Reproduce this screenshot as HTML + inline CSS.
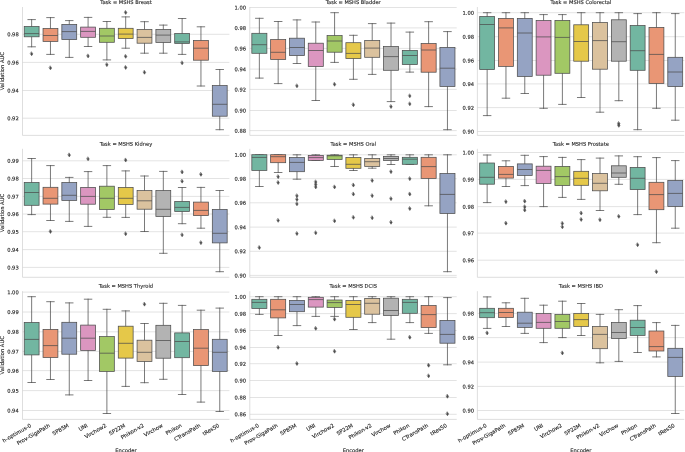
<!DOCTYPE html>
<html lang="en"><head><meta charset="utf-8"><title>Validation AUC by Encoder</title>
<style>html,body{margin:0;padding:0;background:#fff}body{width:685px;height:452px;overflow:hidden}svg{display:block}</style>
</head><body>
<svg width="685" height="452" viewBox="0 0 685 452" font-family="'DejaVu Sans', 'Liberation Sans', sans-serif" font-size="5.2" fill="#262626" text-rendering="geometricPrecision" stroke="#262626" stroke-width="0.13">
<rect width="685" height="452" fill="#fff" stroke="none"/>
<g>
<line x1="22.50" x2="229.40" y1="34.30" y2="34.30" stroke="#cccccc" stroke-width="0.55"/>
<line x1="22.50" x2="229.40" y1="62.40" y2="62.40" stroke="#cccccc" stroke-width="0.55"/>
<line x1="22.50" x2="229.40" y1="90.50" y2="90.50" stroke="#cccccc" stroke-width="0.55"/>
<line x1="22.50" x2="229.40" y1="118.20" y2="118.20" stroke="#cccccc" stroke-width="0.55"/>
<g stroke="#4d4d4d" stroke-width="0.75" fill="none" stroke-linecap="square">
<path d="M31.65 19.60V26.50M31.65 36.80V46.80M27.94 19.60h7.42M27.94 46.80h7.42"/>
<rect x="24.23" y="26.50" width="14.85" height="10.30" fill="#72b6a1"/>
<path d="M24.23 33.60h14.85" stroke-linecap="butt"/>
<path d="M31.65 52.05l1.2 1.85l-1.2 1.85l-1.2 -1.85z" fill="#4d4d4d" stroke-width="0.5" stroke-linejoin="miter"/>
</g>
<g stroke="#4d4d4d" stroke-width="0.75" fill="none" stroke-linecap="square">
<path d="M50.46 17.60V28.50M50.46 41.40V54.40M46.75 17.60h7.42M46.75 54.40h7.42"/>
<rect x="43.04" y="28.50" width="14.85" height="12.90" fill="#e99675"/>
<path d="M43.04 35.50h14.85" stroke-linecap="butt"/>
<path d="M50.46 66.15l1.2 1.85l-1.2 1.85l-1.2 -1.85z" fill="#4d4d4d" stroke-width="0.5" stroke-linejoin="miter"/>
</g>
<g stroke="#4d4d4d" stroke-width="0.75" fill="none" stroke-linecap="square">
<path d="M69.27 20.60V24.40M69.27 39.60V57.40M65.56 20.60h7.42M65.56 57.40h7.42"/>
<rect x="61.85" y="24.40" width="14.85" height="15.20" fill="#95a3c3"/>
<path d="M61.85 31.60h14.85" stroke-linecap="butt"/>
</g>
<g stroke="#4d4d4d" stroke-width="0.75" fill="none" stroke-linecap="square">
<path d="M88.08 17.40V27.10M88.08 37.30V46.50M84.37 17.40h7.42M84.37 46.50h7.42"/>
<rect x="80.66" y="27.10" width="14.85" height="10.20" fill="#db96c0"/>
<path d="M80.66 31.40h14.85" stroke-linecap="butt"/>
<path d="M88.08 54.25l1.2 1.85l-1.2 1.85l-1.2 -1.85z" fill="#4d4d4d" stroke-width="0.5" stroke-linejoin="miter"/>
</g>
<g stroke="#4d4d4d" stroke-width="0.75" fill="none" stroke-linecap="square">
<path d="M106.89 21.50V28.30M106.89 42.30V59.90M103.18 21.50h7.42M103.18 59.90h7.42"/>
<rect x="99.47" y="28.30" width="14.85" height="14.00" fill="#a2c865"/>
<path d="M99.47 36.00h14.85" stroke-linecap="butt"/>
<path d="M106.89 62.95l1.2 1.85l-1.2 1.85l-1.2 -1.85z" fill="#4d4d4d" stroke-width="0.5" stroke-linejoin="miter"/>
</g>
<g stroke="#4d4d4d" stroke-width="0.75" fill="none" stroke-linecap="square">
<path d="M125.70 16.90V28.30M125.70 38.60V48.20M121.99 16.90h7.42M121.99 48.20h7.42"/>
<rect x="118.28" y="28.30" width="14.85" height="10.30" fill="#e5c849"/>
<path d="M118.28 34.10h14.85" stroke-linecap="butt"/>
<path d="M125.70 10.75l1.2 1.85l-1.2 1.85l-1.2 -1.85z" fill="#4d4d4d" stroke-width="0.5" stroke-linejoin="miter"/>
<path d="M125.70 54.65l1.2 1.85l-1.2 1.85l-1.2 -1.85z" fill="#4d4d4d" stroke-width="0.5" stroke-linejoin="miter"/>
<path d="M125.70 65.75l1.2 1.85l-1.2 1.85l-1.2 -1.85z" fill="#4d4d4d" stroke-width="0.5" stroke-linejoin="miter"/>
</g>
<g stroke="#4d4d4d" stroke-width="0.75" fill="none" stroke-linecap="square">
<path d="M144.51 21.70V29.40M144.51 43.20V53.20M140.80 21.70h7.42M140.80 53.20h7.42"/>
<rect x="137.08" y="29.40" width="14.85" height="13.80" fill="#dbc29e"/>
<path d="M137.08 37.40h14.85" stroke-linecap="butt"/>
<path d="M144.51 70.55l1.2 1.85l-1.2 1.85l-1.2 -1.85z" fill="#4d4d4d" stroke-width="0.5" stroke-linejoin="miter"/>
</g>
<g stroke="#4d4d4d" stroke-width="0.75" fill="none" stroke-linecap="square">
<path d="M163.32 25.10V29.40M163.32 42.50V53.20M159.61 25.10h7.42M159.61 53.20h7.42"/>
<rect x="155.89" y="29.40" width="14.85" height="13.10" fill="#b3b3b3"/>
<path d="M155.89 35.10h14.85" stroke-linecap="butt"/>
</g>
<g stroke="#4d4d4d" stroke-width="0.75" fill="none" stroke-linecap="square">
<path d="M182.13 18.50V33.50M182.13 43.40V54.40M178.41 18.50h7.42M178.41 54.40h7.42"/>
<rect x="174.70" y="33.50" width="14.85" height="9.90" fill="#72b6a1"/>
<path d="M174.70 41.90h14.85" stroke-linecap="butt"/>
<path d="M182.13 61.15l1.2 1.85l-1.2 1.85l-1.2 -1.85z" fill="#4d4d4d" stroke-width="0.5" stroke-linejoin="miter"/>
</g>
<g stroke="#4d4d4d" stroke-width="0.75" fill="none" stroke-linecap="square">
<path d="M200.94 26.80V40.50M200.94 60.20V86.00M197.22 26.80h7.42M197.22 86.00h7.42"/>
<rect x="193.51" y="40.50" width="14.85" height="19.70" fill="#e99675"/>
<path d="M193.51 48.20h14.85" stroke-linecap="butt"/>
</g>
<g stroke="#4d4d4d" stroke-width="0.75" fill="none" stroke-linecap="square">
<path d="M219.75 69.50V85.60M219.75 116.20V129.70M216.03 69.50h7.42M216.03 129.70h7.42"/>
<rect x="212.32" y="85.60" width="14.85" height="30.60" fill="#95a3c3"/>
<path d="M212.32 104.30h14.85" stroke-linecap="butt"/>
</g>
<path d="M22.50 7.00V135.40H229.40" fill="none" stroke="#cccccc" stroke-width="0.65"/>
<text transform="translate(18.70 36.35) rotate(0.05)" text-anchor="end">0.98</text>
<text transform="translate(18.70 64.45) rotate(0.05)" text-anchor="end">0.96</text>
<text transform="translate(18.70 92.55) rotate(0.05)" text-anchor="end">0.94</text>
<text transform="translate(18.70 120.25) rotate(0.05)" text-anchor="end">0.92</text>
<text transform="translate(125.95 4.00) rotate(0.05)" text-anchor="middle" font-size="5.14">Task = MSHS Breast</text>
<text transform="translate(4.0 71.20) rotate(-90)" text-anchor="middle">Validation AUC</text>
</g>
<g>
<line x1="249.80" x2="456.70" y1="7.50" y2="7.50" stroke="#cccccc" stroke-width="0.55"/>
<line x1="249.80" x2="456.70" y1="27.90" y2="27.90" stroke="#cccccc" stroke-width="0.55"/>
<line x1="249.80" x2="456.70" y1="48.40" y2="48.40" stroke="#cccccc" stroke-width="0.55"/>
<line x1="249.80" x2="456.70" y1="69.10" y2="69.10" stroke="#cccccc" stroke-width="0.55"/>
<line x1="249.80" x2="456.70" y1="89.40" y2="89.40" stroke="#cccccc" stroke-width="0.55"/>
<line x1="249.80" x2="456.70" y1="110.50" y2="110.50" stroke="#cccccc" stroke-width="0.55"/>
<line x1="249.80" x2="456.70" y1="130.60" y2="130.60" stroke="#cccccc" stroke-width="0.55"/>
<g stroke="#4d4d4d" stroke-width="0.75" fill="none" stroke-linecap="square">
<path d="M259.35 18.30V33.30M259.35 53.30V78.10M255.59 18.30h7.53M255.59 78.10h7.53"/>
<rect x="251.83" y="33.30" width="15.05" height="20.00" fill="#72b6a1"/>
<path d="M251.83 44.70h15.05" stroke-linecap="butt"/>
</g>
<g stroke="#4d4d4d" stroke-width="0.75" fill="none" stroke-linecap="square">
<path d="M278.16 21.50V39.60M278.16 59.50V83.60M274.40 21.50h7.53M274.40 83.60h7.53"/>
<rect x="270.64" y="39.60" width="15.05" height="19.90" fill="#e99675"/>
<path d="M270.64 52.30h15.05" stroke-linecap="butt"/>
</g>
<g stroke="#4d4d4d" stroke-width="0.75" fill="none" stroke-linecap="square">
<path d="M296.97 19.90V38.20M296.97 55.60V63.50M293.21 19.90h7.53M293.21 63.50h7.53"/>
<rect x="289.45" y="38.20" width="15.05" height="17.40" fill="#95a3c3"/>
<path d="M289.45 47.50h15.05" stroke-linecap="butt"/>
<path d="M296.97 84.15l1.2 1.85l-1.2 1.85l-1.2 -1.85z" fill="#4d4d4d" stroke-width="0.5" stroke-linejoin="miter"/>
</g>
<g stroke="#4d4d4d" stroke-width="0.75" fill="none" stroke-linecap="square">
<path d="M315.78 22.00V43.20M315.78 66.50V100.50M312.02 22.00h7.53M312.02 100.50h7.53"/>
<rect x="308.26" y="43.20" width="15.05" height="23.30" fill="#db96c0"/>
<path d="M308.26 50.50h15.05" stroke-linecap="butt"/>
</g>
<g stroke="#4d4d4d" stroke-width="0.75" fill="none" stroke-linecap="square">
<path d="M334.59 12.70V35.60M334.59 52.20V62.40M330.83 12.70h7.53M330.83 62.40h7.53"/>
<rect x="327.07" y="35.60" width="15.05" height="16.60" fill="#a2c865"/>
<path d="M327.07 41.00h15.05" stroke-linecap="butt"/>
<path d="M334.59 82.55l1.2 1.85l-1.2 1.85l-1.2 -1.85z" fill="#4d4d4d" stroke-width="0.5" stroke-linejoin="miter"/>
</g>
<g stroke="#4d4d4d" stroke-width="0.75" fill="none" stroke-linecap="square">
<path d="M353.40 35.30V42.70M353.40 58.60V79.30M349.64 35.30h7.53M349.64 79.30h7.53"/>
<rect x="345.88" y="42.70" width="15.05" height="15.90" fill="#e5c849"/>
<path d="M345.88 53.40h15.05" stroke-linecap="butt"/>
<path d="M353.40 103.05l1.2 1.85l-1.2 1.85l-1.2 -1.85z" fill="#4d4d4d" stroke-width="0.5" stroke-linejoin="miter"/>
</g>
<g stroke="#4d4d4d" stroke-width="0.75" fill="none" stroke-linecap="square">
<path d="M372.21 23.60V40.50M372.21 57.30V74.40M368.45 23.60h7.53M368.45 74.40h7.53"/>
<rect x="364.68" y="40.50" width="15.05" height="16.80" fill="#dbc29e"/>
<path d="M364.68 48.10h15.05" stroke-linecap="butt"/>
</g>
<g stroke="#4d4d4d" stroke-width="0.75" fill="none" stroke-linecap="square">
<path d="M391.02 23.10V46.50M391.02 70.30V101.60M387.26 23.10h7.53M387.26 101.60h7.53"/>
<rect x="383.49" y="46.50" width="15.05" height="23.80" fill="#b3b3b3"/>
<path d="M383.49 56.60h15.05" stroke-linecap="butt"/>
<path d="M391.02 104.85l1.2 1.85l-1.2 1.85l-1.2 -1.85z" fill="#4d4d4d" stroke-width="0.5" stroke-linejoin="miter"/>
</g>
<g stroke="#4d4d4d" stroke-width="0.75" fill="none" stroke-linecap="square">
<path d="M409.83 32.10V50.40M409.83 64.60V72.10M406.06 32.10h7.53M406.06 72.10h7.53"/>
<rect x="402.30" y="50.40" width="15.05" height="14.20" fill="#72b6a1"/>
<path d="M402.30 55.50h15.05" stroke-linecap="butt"/>
<path d="M409.83 94.15l1.2 1.85l-1.2 1.85l-1.2 -1.85z" fill="#4d4d4d" stroke-width="0.5" stroke-linejoin="miter"/>
<path d="M409.83 102.15l1.2 1.85l-1.2 1.85l-1.2 -1.85z" fill="#4d4d4d" stroke-width="0.5" stroke-linejoin="miter"/>
</g>
<g stroke="#4d4d4d" stroke-width="0.75" fill="none" stroke-linecap="square">
<path d="M428.64 21.70V43.50M428.64 72.20V106.60M424.87 21.70h7.53M424.87 106.60h7.53"/>
<rect x="421.11" y="43.50" width="15.05" height="28.70" fill="#e99675"/>
<path d="M421.11 50.00h15.05" stroke-linecap="butt"/>
</g>
<g stroke="#4d4d4d" stroke-width="0.75" fill="none" stroke-linecap="square">
<path d="M447.45 31.60V47.40M447.45 86.50V129.70M443.68 31.60h7.53M443.68 129.70h7.53"/>
<rect x="439.92" y="47.40" width="15.05" height="39.10" fill="#95a3c3"/>
<path d="M439.92 68.20h15.05" stroke-linecap="butt"/>
</g>
<path d="M249.80 7.00V135.40H456.70" fill="none" stroke="#cccccc" stroke-width="0.65"/>
<text transform="translate(246.00 9.55) rotate(0.05)" text-anchor="end">1.00</text>
<text transform="translate(246.00 29.95) rotate(0.05)" text-anchor="end">0.98</text>
<text transform="translate(246.00 50.45) rotate(0.05)" text-anchor="end">0.96</text>
<text transform="translate(246.00 71.15) rotate(0.05)" text-anchor="end">0.94</text>
<text transform="translate(246.00 91.45) rotate(0.05)" text-anchor="end">0.92</text>
<text transform="translate(246.00 112.55) rotate(0.05)" text-anchor="end">0.90</text>
<text transform="translate(246.00 132.65) rotate(0.05)" text-anchor="end">0.88</text>
<text transform="translate(353.25 4.00) rotate(0.05)" text-anchor="middle" font-size="5.14">Task = MSHS Bladder</text>
</g>
<g>
<line x1="477.40" x2="684.30" y1="12.70" y2="12.70" stroke="#cccccc" stroke-width="0.55"/>
<line x1="477.40" x2="684.30" y1="36.70" y2="36.70" stroke="#cccccc" stroke-width="0.55"/>
<line x1="477.40" x2="684.30" y1="60.50" y2="60.50" stroke="#cccccc" stroke-width="0.55"/>
<line x1="477.40" x2="684.30" y1="83.90" y2="83.90" stroke="#cccccc" stroke-width="0.55"/>
<line x1="477.40" x2="684.30" y1="107.60" y2="107.60" stroke="#cccccc" stroke-width="0.55"/>
<line x1="477.40" x2="684.30" y1="131.50" y2="131.50" stroke="#cccccc" stroke-width="0.55"/>
<g stroke="#4d4d4d" stroke-width="0.75" fill="none" stroke-linecap="square">
<path d="M487.15 12.70V16.50M487.15 69.60V115.60M483.43 12.70h7.45M483.43 115.60h7.45"/>
<rect x="479.70" y="16.50" width="14.90" height="53.10" fill="#72b6a1"/>
<path d="M479.70 24.50h14.90" stroke-linecap="butt"/>
</g>
<g stroke="#4d4d4d" stroke-width="0.75" fill="none" stroke-linecap="square">
<path d="M505.96 12.70V18.40M505.96 66.40V98.20M502.24 12.70h7.45M502.24 98.20h7.45"/>
<rect x="498.51" y="18.40" width="14.90" height="48.00" fill="#e99675"/>
<path d="M498.51 27.90h14.90" stroke-linecap="butt"/>
</g>
<g stroke="#4d4d4d" stroke-width="0.75" fill="none" stroke-linecap="square">
<path d="M524.77 12.70V18.40M524.77 76.50V93.50M521.05 12.70h7.45M521.05 93.50h7.45"/>
<rect x="517.32" y="18.40" width="14.90" height="58.10" fill="#95a3c3"/>
<path d="M517.32 33.00h14.90" stroke-linecap="butt"/>
</g>
<g stroke="#4d4d4d" stroke-width="0.75" fill="none" stroke-linecap="square">
<path d="M543.58 14.60V20.50M543.58 75.20V108.30M539.86 14.60h7.45M539.86 108.30h7.45"/>
<rect x="536.13" y="20.50" width="14.90" height="54.70" fill="#db96c0"/>
<path d="M536.13 36.90h14.90" stroke-linecap="butt"/>
</g>
<g stroke="#4d4d4d" stroke-width="0.75" fill="none" stroke-linecap="square">
<path d="M562.39 14.60V20.40M562.39 73.30V104.40M558.67 14.60h7.45M558.67 104.40h7.45"/>
<rect x="554.94" y="20.40" width="14.90" height="52.90" fill="#a2c865"/>
<path d="M554.94 37.40h14.90" stroke-linecap="butt"/>
</g>
<g stroke="#4d4d4d" stroke-width="0.75" fill="none" stroke-linecap="square">
<path d="M581.20 12.70V24.80M581.20 61.20V97.50M577.48 12.70h7.45M577.48 97.50h7.45"/>
<rect x="573.75" y="24.80" width="14.90" height="36.40" fill="#e5c849"/>
<path d="M573.75 41.50h14.90" stroke-linecap="butt"/>
</g>
<g stroke="#4d4d4d" stroke-width="0.75" fill="none" stroke-linecap="square">
<path d="M600.01 12.70V22.50M600.01 69.20V112.20M596.28 12.70h7.45M596.28 112.20h7.45"/>
<rect x="592.56" y="22.50" width="14.90" height="46.70" fill="#dbc29e"/>
<path d="M592.56 40.60h14.90" stroke-linecap="butt"/>
</g>
<g stroke="#4d4d4d" stroke-width="0.75" fill="none" stroke-linecap="square">
<path d="M618.82 12.70V19.80M618.82 61.20V100.70M615.09 12.70h7.45M615.09 100.70h7.45"/>
<rect x="611.37" y="19.80" width="14.90" height="41.40" fill="#b3b3b3"/>
<path d="M611.37 41.70h14.90" stroke-linecap="butt"/>
<path d="M618.82 121.85l1.2 1.85l-1.2 1.85l-1.2 -1.85z" fill="#4d4d4d" stroke-width="0.5" stroke-linejoin="miter"/>
<path d="M618.82 123.65l1.2 1.85l-1.2 1.85l-1.2 -1.85z" fill="#4d4d4d" stroke-width="0.5" stroke-linejoin="miter"/>
</g>
<g stroke="#4d4d4d" stroke-width="0.75" fill="none" stroke-linecap="square">
<path d="M637.63 13.60V25.50M637.63 70.30V129.70M633.90 13.60h7.45M633.90 129.70h7.45"/>
<rect x="630.18" y="25.50" width="14.90" height="44.80" fill="#72b6a1"/>
<path d="M630.18 50.70h14.90" stroke-linecap="butt"/>
</g>
<g stroke="#4d4d4d" stroke-width="0.75" fill="none" stroke-linecap="square">
<path d="M656.44 12.70V27.40M656.44 83.50V108.30M652.71 12.70h7.45M652.71 108.30h7.45"/>
<rect x="648.99" y="27.40" width="14.90" height="56.10" fill="#e99675"/>
<path d="M648.99 54.40h14.90" stroke-linecap="butt"/>
</g>
<g stroke="#4d4d4d" stroke-width="0.75" fill="none" stroke-linecap="square">
<path d="M675.25 13.60V57.30M675.25 86.60V120.20M671.52 13.60h7.45M671.52 120.20h7.45"/>
<rect x="667.80" y="57.30" width="14.90" height="29.30" fill="#95a3c3"/>
<path d="M667.80 72.00h14.90" stroke-linecap="butt"/>
</g>
<path d="M477.40 7.00V135.40H684.30" fill="none" stroke="#cccccc" stroke-width="0.65"/>
<text transform="translate(474.10 14.75) rotate(0.05)" text-anchor="end">1.00</text>
<text transform="translate(474.10 38.75) rotate(0.05)" text-anchor="end">0.98</text>
<text transform="translate(474.10 62.55) rotate(0.05)" text-anchor="end">0.96</text>
<text transform="translate(474.10 85.95) rotate(0.05)" text-anchor="end">0.94</text>
<text transform="translate(474.10 109.65) rotate(0.05)" text-anchor="end">0.92</text>
<text transform="translate(474.10 133.55) rotate(0.05)" text-anchor="end">0.90</text>
<text transform="translate(580.85 4.00) rotate(0.05)" text-anchor="middle" font-size="5.14">Task = MSHS Colorectal</text>
</g>
<g>
<line x1="22.50" x2="229.40" y1="160.80" y2="160.80" stroke="#cccccc" stroke-width="0.55"/>
<line x1="22.50" x2="229.40" y1="178.50" y2="178.50" stroke="#cccccc" stroke-width="0.55"/>
<line x1="22.50" x2="229.40" y1="196.40" y2="196.40" stroke="#cccccc" stroke-width="0.55"/>
<line x1="22.50" x2="229.40" y1="214.00" y2="214.00" stroke="#cccccc" stroke-width="0.55"/>
<line x1="22.50" x2="229.40" y1="231.70" y2="231.70" stroke="#cccccc" stroke-width="0.55"/>
<line x1="22.50" x2="229.40" y1="249.60" y2="249.60" stroke="#cccccc" stroke-width="0.55"/>
<line x1="22.50" x2="229.40" y1="267.40" y2="267.40" stroke="#cccccc" stroke-width="0.55"/>
<g stroke="#4d4d4d" stroke-width="0.75" fill="none" stroke-linecap="square">
<path d="M31.65 158.50V182.50M31.65 205.30V214.60M27.94 158.50h7.42M27.94 214.60h7.42"/>
<rect x="24.23" y="182.50" width="14.85" height="22.80" fill="#72b6a1"/>
<path d="M24.23 192.50h14.85" stroke-linecap="butt"/>
</g>
<g stroke="#4d4d4d" stroke-width="0.75" fill="none" stroke-linecap="square">
<path d="M50.46 165.60V187.30M50.46 204.10V220.50M46.75 165.60h7.42M46.75 220.50h7.42"/>
<rect x="43.04" y="187.30" width="14.85" height="16.80" fill="#e99675"/>
<path d="M43.04 198.30h14.85" stroke-linecap="butt"/>
<path d="M50.46 229.75l1.2 1.85l-1.2 1.85l-1.2 -1.85z" fill="#4d4d4d" stroke-width="0.5" stroke-linejoin="miter"/>
</g>
<g stroke="#4d4d4d" stroke-width="0.75" fill="none" stroke-linecap="square">
<path d="M69.27 177.40V182.50M69.27 200.40V221.40M65.56 177.40h7.42M65.56 221.40h7.42"/>
<rect x="61.85" y="182.50" width="14.85" height="17.90" fill="#95a3c3"/>
<path d="M61.85 195.30h14.85" stroke-linecap="butt"/>
<path d="M69.27 153.25l1.2 1.85l-1.2 1.85l-1.2 -1.85z" fill="#4d4d4d" stroke-width="0.5" stroke-linejoin="miter"/>
</g>
<g stroke="#4d4d4d" stroke-width="0.75" fill="none" stroke-linecap="square">
<path d="M88.08 171.60V187.40M88.08 204.20V226.40M84.37 171.60h7.42M84.37 226.40h7.42"/>
<rect x="80.66" y="187.40" width="14.85" height="16.80" fill="#db96c0"/>
<path d="M80.66 196.40h14.85" stroke-linecap="butt"/>
<path d="M88.08 157.15l1.2 1.85l-1.2 1.85l-1.2 -1.85z" fill="#4d4d4d" stroke-width="0.5" stroke-linejoin="miter"/>
</g>
<g stroke="#4d4d4d" stroke-width="0.75" fill="none" stroke-linecap="square">
<path d="M106.89 165.60V186.20M106.89 209.60V217.30M103.18 165.60h7.42M103.18 217.30h7.42"/>
<rect x="99.47" y="186.20" width="14.85" height="23.40" fill="#a2c865"/>
<path d="M99.47 198.30h14.85" stroke-linecap="butt"/>
</g>
<g stroke="#4d4d4d" stroke-width="0.75" fill="none" stroke-linecap="square">
<path d="M125.70 170.90V187.40M125.70 204.40V217.40M121.99 170.90h7.42M121.99 217.40h7.42"/>
<rect x="118.28" y="187.40" width="14.85" height="17.00" fill="#e5c849"/>
<path d="M118.28 198.30h14.85" stroke-linecap="butt"/>
<path d="M125.70 158.35l1.2 1.85l-1.2 1.85l-1.2 -1.85z" fill="#4d4d4d" stroke-width="0.5" stroke-linejoin="miter"/>
<path d="M125.70 232.05l1.2 1.85l-1.2 1.85l-1.2 -1.85z" fill="#4d4d4d" stroke-width="0.5" stroke-linejoin="miter"/>
</g>
<g stroke="#4d4d4d" stroke-width="0.75" fill="none" stroke-linecap="square">
<path d="M144.51 176.00V190.60M144.51 209.20V231.50M140.80 176.00h7.42M140.80 231.50h7.42"/>
<rect x="137.08" y="190.60" width="14.85" height="18.60" fill="#dbc29e"/>
<path d="M137.08 200.80h14.85" stroke-linecap="butt"/>
</g>
<g stroke="#4d4d4d" stroke-width="0.75" fill="none" stroke-linecap="square">
<path d="M163.32 171.40V190.60M163.32 216.50V253.30M159.61 171.40h7.42M159.61 253.30h7.42"/>
<rect x="155.89" y="190.60" width="14.85" height="25.90" fill="#b3b3b3"/>
<path d="M155.89 209.30h14.85" stroke-linecap="butt"/>
</g>
<g stroke="#4d4d4d" stroke-width="0.75" fill="none" stroke-linecap="square">
<path d="M182.13 187.50V201.40M182.13 211.50V223.70M178.41 187.50h7.42M178.41 223.70h7.42"/>
<rect x="174.70" y="201.40" width="14.85" height="10.10" fill="#72b6a1"/>
<path d="M174.70 207.40h14.85" stroke-linecap="butt"/>
<path d="M182.13 170.25l1.2 1.85l-1.2 1.85l-1.2 -1.85z" fill="#4d4d4d" stroke-width="0.5" stroke-linejoin="miter"/>
<path d="M182.13 179.45l1.2 1.85l-1.2 1.85l-1.2 -1.85z" fill="#4d4d4d" stroke-width="0.5" stroke-linejoin="miter"/>
<path d="M182.13 233.15l1.2 1.85l-1.2 1.85l-1.2 -1.85z" fill="#4d4d4d" stroke-width="0.5" stroke-linejoin="miter"/>
</g>
<g stroke="#4d4d4d" stroke-width="0.75" fill="none" stroke-linecap="square">
<path d="M200.94 187.40V202.10M200.94 215.60V228.20M197.22 187.40h7.42M197.22 228.20h7.42"/>
<rect x="193.51" y="202.10" width="14.85" height="13.50" fill="#e99675"/>
<path d="M193.51 210.40h14.85" stroke-linecap="butt"/>
<path d="M200.94 172.65l1.2 1.85l-1.2 1.85l-1.2 -1.85z" fill="#4d4d4d" stroke-width="0.5" stroke-linejoin="miter"/>
<path d="M200.94 240.95l1.2 1.85l-1.2 1.85l-1.2 -1.85z" fill="#4d4d4d" stroke-width="0.5" stroke-linejoin="miter"/>
</g>
<g stroke="#4d4d4d" stroke-width="0.75" fill="none" stroke-linecap="square">
<path d="M219.75 190.50V209.40M219.75 242.90V271.70M216.03 190.50h7.42M216.03 271.70h7.42"/>
<rect x="212.32" y="209.40" width="14.85" height="33.50" fill="#95a3c3"/>
<path d="M212.32 233.30h14.85" stroke-linecap="butt"/>
</g>
<path d="M22.50 148.80V277.30H229.40" fill="none" stroke="#cccccc" stroke-width="0.65"/>
<text transform="translate(18.70 162.85) rotate(0.05)" text-anchor="end">0.99</text>
<text transform="translate(18.70 180.55) rotate(0.05)" text-anchor="end">0.98</text>
<text transform="translate(18.70 198.45) rotate(0.05)" text-anchor="end">0.97</text>
<text transform="translate(18.70 216.05) rotate(0.05)" text-anchor="end">0.96</text>
<text transform="translate(18.70 233.75) rotate(0.05)" text-anchor="end">0.95</text>
<text transform="translate(18.70 251.65) rotate(0.05)" text-anchor="end">0.94</text>
<text transform="translate(18.70 269.45) rotate(0.05)" text-anchor="end">0.93</text>
<text transform="translate(125.95 145.70) rotate(0.05)" text-anchor="middle" font-size="5.14">Task = MSHS Kidney</text>
<text transform="translate(4.0 213.05) rotate(-90)" text-anchor="middle">Validation AUC</text>
</g>
<g>
<line x1="249.80" x2="456.70" y1="154.80" y2="154.80" stroke="#cccccc" stroke-width="0.55"/>
<line x1="249.80" x2="456.70" y1="178.70" y2="178.70" stroke="#cccccc" stroke-width="0.55"/>
<line x1="249.80" x2="456.70" y1="202.80" y2="202.80" stroke="#cccccc" stroke-width="0.55"/>
<line x1="249.80" x2="456.70" y1="227.10" y2="227.10" stroke="#cccccc" stroke-width="0.55"/>
<line x1="249.80" x2="456.70" y1="251.30" y2="251.30" stroke="#cccccc" stroke-width="0.55"/>
<line x1="249.80" x2="456.70" y1="275.40" y2="275.40" stroke="#cccccc" stroke-width="0.55"/>
<g stroke="#4d4d4d" stroke-width="0.75" fill="none" stroke-linecap="square">
<path d="M259.35 154.80V154.70M259.35 170.40V186.50M255.59 154.80h7.53M255.59 186.50h7.53"/>
<rect x="251.83" y="154.70" width="15.05" height="15.70" fill="#72b6a1"/>
<path d="M251.83 157.40h15.05" stroke-linecap="butt"/>
<path d="M259.35 245.85l1.2 1.85l-1.2 1.85l-1.2 -1.85z" fill="#4d4d4d" stroke-width="0.5" stroke-linejoin="miter"/>
</g>
<g stroke="#4d4d4d" stroke-width="0.75" fill="none" stroke-linecap="square">
<path d="M278.16 154.80V154.70M278.16 162.70V172.50M274.40 154.80h7.53M274.40 172.50h7.53"/>
<rect x="270.64" y="154.70" width="15.05" height="8.00" fill="#e99675"/>
<path d="M270.64 156.70h15.05" stroke-linecap="butt"/>
<path d="M278.16 174.95l1.2 1.85l-1.2 1.85l-1.2 -1.85z" fill="#4d4d4d" stroke-width="0.5" stroke-linejoin="miter"/>
<path d="M278.16 180.85l1.2 1.85l-1.2 1.85l-1.2 -1.85z" fill="#4d4d4d" stroke-width="0.5" stroke-linejoin="miter"/>
<path d="M278.16 218.65l1.2 1.85l-1.2 1.85l-1.2 -1.85z" fill="#4d4d4d" stroke-width="0.5" stroke-linejoin="miter"/>
</g>
<g stroke="#4d4d4d" stroke-width="0.75" fill="none" stroke-linecap="square">
<path d="M296.97 154.80V157.50M296.97 171.70V179.20M293.21 154.80h7.53M293.21 179.20h7.53"/>
<rect x="289.45" y="157.50" width="15.05" height="14.20" fill="#95a3c3"/>
<path d="M289.45 162.40h15.05" stroke-linecap="butt"/>
<path d="M296.97 194.05l1.2 1.85l-1.2 1.85l-1.2 -1.85z" fill="#4d4d4d" stroke-width="0.5" stroke-linejoin="miter"/>
<path d="M296.97 197.75l1.2 1.85l-1.2 1.85l-1.2 -1.85z" fill="#4d4d4d" stroke-width="0.5" stroke-linejoin="miter"/>
<path d="M296.97 202.15l1.2 1.85l-1.2 1.85l-1.2 -1.85z" fill="#4d4d4d" stroke-width="0.5" stroke-linejoin="miter"/>
<path d="M296.97 231.85l1.2 1.85l-1.2 1.85l-1.2 -1.85z" fill="#4d4d4d" stroke-width="0.5" stroke-linejoin="miter"/>
</g>
<g stroke="#4d4d4d" stroke-width="0.75" fill="none" stroke-linecap="square">
<path d="M315.78 154.80V155.40M315.78 160.40V160.50M312.02 154.80h7.53M312.02 160.50h7.53"/>
<rect x="308.26" y="155.40" width="15.05" height="5.00" fill="#db96c0"/>
<path d="M308.26 157.60h15.05" stroke-linecap="butt"/>
<path d="M315.78 180.15l1.2 1.85l-1.2 1.85l-1.2 -1.85z" fill="#4d4d4d" stroke-width="0.5" stroke-linejoin="miter"/>
<path d="M315.78 182.65l1.2 1.85l-1.2 1.85l-1.2 -1.85z" fill="#4d4d4d" stroke-width="0.5" stroke-linejoin="miter"/>
<path d="M315.78 185.25l1.2 1.85l-1.2 1.85l-1.2 -1.85z" fill="#4d4d4d" stroke-width="0.5" stroke-linejoin="miter"/>
<path d="M315.78 231.05l1.2 1.85l-1.2 1.85l-1.2 -1.85z" fill="#4d4d4d" stroke-width="0.5" stroke-linejoin="miter"/>
</g>
<g stroke="#4d4d4d" stroke-width="0.75" fill="none" stroke-linecap="square">
<path d="M334.59 154.80V155.20M334.59 159.50V166.50M330.83 154.80h7.53M330.83 166.50h7.53"/>
<rect x="327.07" y="155.20" width="15.05" height="4.30" fill="#a2c865"/>
<path d="M327.07 155.80h15.05" stroke-linecap="butt"/>
<path d="M334.59 185.25l1.2 1.85l-1.2 1.85l-1.2 -1.85z" fill="#4d4d4d" stroke-width="0.5" stroke-linejoin="miter"/>
<path d="M334.59 219.15l1.2 1.85l-1.2 1.85l-1.2 -1.85z" fill="#4d4d4d" stroke-width="0.5" stroke-linejoin="miter"/>
</g>
<g stroke="#4d4d4d" stroke-width="0.75" fill="none" stroke-linecap="square">
<path d="M353.40 154.80V157.50M353.40 168.30V170.50M349.64 154.80h7.53M349.64 170.50h7.53"/>
<rect x="345.88" y="157.50" width="15.05" height="10.80" fill="#e5c849"/>
<path d="M345.88 164.30h15.05" stroke-linecap="butt"/>
<path d="M353.40 183.35l1.2 1.85l-1.2 1.85l-1.2 -1.85z" fill="#4d4d4d" stroke-width="0.5" stroke-linejoin="miter"/>
<path d="M353.40 192.35l1.2 1.85l-1.2 1.85l-1.2 -1.85z" fill="#4d4d4d" stroke-width="0.5" stroke-linejoin="miter"/>
<path d="M353.40 215.65l1.2 1.85l-1.2 1.85l-1.2 -1.85z" fill="#4d4d4d" stroke-width="0.5" stroke-linejoin="miter"/>
</g>
<g stroke="#4d4d4d" stroke-width="0.75" fill="none" stroke-linecap="square">
<path d="M372.21 154.80V158.40M372.21 166.50V168.20M368.45 154.80h7.53M368.45 168.20h7.53"/>
<rect x="364.68" y="158.40" width="15.05" height="8.10" fill="#dbc29e"/>
<path d="M364.68 161.70h15.05" stroke-linecap="butt"/>
<path d="M372.21 178.75l1.2 1.85l-1.2 1.85l-1.2 -1.85z" fill="#4d4d4d" stroke-width="0.5" stroke-linejoin="miter"/>
<path d="M372.21 193.95l1.2 1.85l-1.2 1.85l-1.2 -1.85z" fill="#4d4d4d" stroke-width="0.5" stroke-linejoin="miter"/>
<path d="M372.21 216.05l1.2 1.85l-1.2 1.85l-1.2 -1.85z" fill="#4d4d4d" stroke-width="0.5" stroke-linejoin="miter"/>
</g>
<g stroke="#4d4d4d" stroke-width="0.75" fill="none" stroke-linecap="square">
<path d="M391.02 154.80V156.40M391.02 160.60V164.50M387.26 154.80h7.53M387.26 164.50h7.53"/>
<rect x="383.49" y="156.40" width="15.05" height="4.20" fill="#b3b3b3"/>
<path d="M383.49 158.50h15.05" stroke-linecap="butt"/>
<path d="M391.02 169.95l1.2 1.85l-1.2 1.85l-1.2 -1.85z" fill="#4d4d4d" stroke-width="0.5" stroke-linejoin="miter"/>
<path d="M391.02 196.95l1.2 1.85l-1.2 1.85l-1.2 -1.85z" fill="#4d4d4d" stroke-width="0.5" stroke-linejoin="miter"/>
<path d="M391.02 220.55l1.2 1.85l-1.2 1.85l-1.2 -1.85z" fill="#4d4d4d" stroke-width="0.5" stroke-linejoin="miter"/>
</g>
<g stroke="#4d4d4d" stroke-width="0.75" fill="none" stroke-linecap="square">
<path d="M409.83 154.80V157.30M409.83 164.30V164.50M406.06 154.80h7.53M406.06 164.50h7.53"/>
<rect x="402.30" y="157.30" width="15.05" height="7.00" fill="#72b6a1"/>
<path d="M402.30 159.20h15.05" stroke-linecap="butt"/>
<path d="M409.83 176.95l1.2 1.85l-1.2 1.85l-1.2 -1.85z" fill="#4d4d4d" stroke-width="0.5" stroke-linejoin="miter"/>
<path d="M409.83 192.35l1.2 1.85l-1.2 1.85l-1.2 -1.85z" fill="#4d4d4d" stroke-width="0.5" stroke-linejoin="miter"/>
<path d="M409.83 206.85l1.2 1.85l-1.2 1.85l-1.2 -1.85z" fill="#4d4d4d" stroke-width="0.5" stroke-linejoin="miter"/>
</g>
<g stroke="#4d4d4d" stroke-width="0.75" fill="none" stroke-linecap="square">
<path d="M428.64 154.80V157.30M428.64 178.40V205.80M424.87 154.80h7.53M424.87 205.80h7.53"/>
<rect x="421.11" y="157.30" width="15.05" height="21.10" fill="#e99675"/>
<path d="M421.11 166.60h15.05" stroke-linecap="butt"/>
</g>
<g stroke="#4d4d4d" stroke-width="0.75" fill="none" stroke-linecap="square">
<path d="M447.45 154.80V173.50M447.45 213.50V271.70M443.68 154.80h7.53M443.68 271.70h7.53"/>
<rect x="439.92" y="173.50" width="15.05" height="40.00" fill="#95a3c3"/>
<path d="M439.92 194.40h15.05" stroke-linecap="butt"/>
</g>
<path d="M249.80 148.80V277.30H456.70" fill="none" stroke="#cccccc" stroke-width="0.65"/>
<text transform="translate(246.00 156.85) rotate(0.05)" text-anchor="end">1.00</text>
<text transform="translate(246.00 180.75) rotate(0.05)" text-anchor="end">0.98</text>
<text transform="translate(246.00 204.85) rotate(0.05)" text-anchor="end">0.96</text>
<text transform="translate(246.00 229.15) rotate(0.05)" text-anchor="end">0.94</text>
<text transform="translate(246.00 253.35) rotate(0.05)" text-anchor="end">0.92</text>
<text transform="translate(246.00 277.45) rotate(0.05)" text-anchor="end">0.90</text>
<text transform="translate(353.25 145.70) rotate(0.05)" text-anchor="middle" font-size="5.14">Task = MSHS Oral</text>
</g>
<g>
<line x1="477.40" x2="684.30" y1="152.50" y2="152.50" stroke="#cccccc" stroke-width="0.55"/>
<line x1="477.40" x2="684.30" y1="179.40" y2="179.40" stroke="#cccccc" stroke-width="0.55"/>
<line x1="477.40" x2="684.30" y1="206.60" y2="206.60" stroke="#cccccc" stroke-width="0.55"/>
<line x1="477.40" x2="684.30" y1="233.10" y2="233.10" stroke="#cccccc" stroke-width="0.55"/>
<line x1="477.40" x2="684.30" y1="260.20" y2="260.20" stroke="#cccccc" stroke-width="0.55"/>
<g stroke="#4d4d4d" stroke-width="0.75" fill="none" stroke-linecap="square">
<path d="M487.15 155.00V163.00M487.15 184.20V202.60M483.43 155.00h7.45M483.43 202.60h7.45"/>
<rect x="479.70" y="163.00" width="14.90" height="21.20" fill="#72b6a1"/>
<path d="M479.70 177.30h14.90" stroke-linecap="butt"/>
</g>
<g stroke="#4d4d4d" stroke-width="0.75" fill="none" stroke-linecap="square">
<path d="M505.96 160.80V166.40M505.96 178.10V186.50M502.24 160.80h7.45M502.24 186.50h7.45"/>
<rect x="498.51" y="166.40" width="14.90" height="11.70" fill="#e99675"/>
<path d="M498.51 174.40h14.90" stroke-linecap="butt"/>
<path d="M505.96 199.95l1.2 1.85l-1.2 1.85l-1.2 -1.85z" fill="#4d4d4d" stroke-width="0.5" stroke-linejoin="miter"/>
<path d="M505.96 221.45l1.2 1.85l-1.2 1.85l-1.2 -1.85z" fill="#4d4d4d" stroke-width="0.5" stroke-linejoin="miter"/>
</g>
<g stroke="#4d4d4d" stroke-width="0.75" fill="none" stroke-linecap="square">
<path d="M524.77 155.30V163.90M524.77 175.40V185.60M521.05 155.30h7.45M521.05 185.60h7.45"/>
<rect x="517.32" y="163.90" width="14.90" height="11.50" fill="#95a3c3"/>
<path d="M517.32 169.50h14.90" stroke-linecap="butt"/>
<path d="M524.77 199.45l1.2 1.85l-1.2 1.85l-1.2 -1.85z" fill="#4d4d4d" stroke-width="0.5" stroke-linejoin="miter"/>
<path d="M524.77 205.05l1.2 1.85l-1.2 1.85l-1.2 -1.85z" fill="#4d4d4d" stroke-width="0.5" stroke-linejoin="miter"/>
<path d="M524.77 208.35l1.2 1.85l-1.2 1.85l-1.2 -1.85z" fill="#4d4d4d" stroke-width="0.5" stroke-linejoin="miter"/>
</g>
<g stroke="#4d4d4d" stroke-width="0.75" fill="none" stroke-linecap="square">
<path d="M543.58 156.60V166.20M543.58 183.50V206.60M539.86 156.60h7.45M539.86 206.60h7.45"/>
<rect x="536.13" y="166.20" width="14.90" height="17.30" fill="#db96c0"/>
<path d="M536.13 170.40h14.90" stroke-linecap="butt"/>
</g>
<g stroke="#4d4d4d" stroke-width="0.75" fill="none" stroke-linecap="square">
<path d="M562.39 157.40V166.40M562.39 185.50V197.40M558.67 157.40h7.45M558.67 197.40h7.45"/>
<rect x="554.94" y="166.40" width="14.90" height="19.10" fill="#a2c865"/>
<path d="M554.94 176.60h14.90" stroke-linecap="butt"/>
<path d="M562.39 221.65l1.2 1.85l-1.2 1.85l-1.2 -1.85z" fill="#4d4d4d" stroke-width="0.5" stroke-linejoin="miter"/>
<path d="M562.39 225.15l1.2 1.85l-1.2 1.85l-1.2 -1.85z" fill="#4d4d4d" stroke-width="0.5" stroke-linejoin="miter"/>
</g>
<g stroke="#4d4d4d" stroke-width="0.75" fill="none" stroke-linecap="square">
<path d="M581.20 159.60V171.30M581.20 185.30V199.40M577.48 159.60h7.45M577.48 199.40h7.45"/>
<rect x="573.75" y="171.30" width="14.90" height="14.00" fill="#e5c849"/>
<path d="M573.75 178.30h14.90" stroke-linecap="butt"/>
<path d="M581.20 211.35l1.2 1.85l-1.2 1.85l-1.2 -1.85z" fill="#4d4d4d" stroke-width="0.5" stroke-linejoin="miter"/>
<path d="M581.20 217.75l1.2 1.85l-1.2 1.85l-1.2 -1.85z" fill="#4d4d4d" stroke-width="0.5" stroke-linejoin="miter"/>
</g>
<g stroke="#4d4d4d" stroke-width="0.75" fill="none" stroke-linecap="square">
<path d="M600.01 158.10V173.60M600.01 190.80V210.50M596.28 158.10h7.45M596.28 210.50h7.45"/>
<rect x="592.56" y="173.60" width="14.90" height="17.20" fill="#dbc29e"/>
<path d="M592.56 183.30h14.90" stroke-linecap="butt"/>
<path d="M600.01 218.05l1.2 1.85l-1.2 1.85l-1.2 -1.85z" fill="#4d4d4d" stroke-width="0.5" stroke-linejoin="miter"/>
</g>
<g stroke="#4d4d4d" stroke-width="0.75" fill="none" stroke-linecap="square">
<path d="M618.82 155.90V165.80M618.82 177.30V184.30M615.09 155.90h7.45M615.09 184.30h7.45"/>
<rect x="611.37" y="165.80" width="14.90" height="11.50" fill="#b3b3b3"/>
<path d="M611.37 173.00h14.90" stroke-linecap="butt"/>
<path d="M618.82 214.65l1.2 1.85l-1.2 1.85l-1.2 -1.85z" fill="#4d4d4d" stroke-width="0.5" stroke-linejoin="miter"/>
</g>
<g stroke="#4d4d4d" stroke-width="0.75" fill="none" stroke-linecap="square">
<path d="M637.63 156.70V167.40M637.63 189.60V214.60M633.90 156.70h7.45M633.90 214.60h7.45"/>
<rect x="630.18" y="167.40" width="14.90" height="22.20" fill="#72b6a1"/>
<path d="M630.18 178.30h14.90" stroke-linecap="butt"/>
<path d="M637.63 243.05l1.2 1.85l-1.2 1.85l-1.2 -1.85z" fill="#4d4d4d" stroke-width="0.5" stroke-linejoin="miter"/>
</g>
<g stroke="#4d4d4d" stroke-width="0.75" fill="none" stroke-linecap="square">
<path d="M656.44 157.60V182.30M656.44 209.70V242.70M652.71 157.60h7.45M652.71 242.70h7.45"/>
<rect x="648.99" y="182.30" width="14.90" height="27.40" fill="#e99675"/>
<path d="M648.99 194.60h14.90" stroke-linecap="butt"/>
<path d="M656.44 269.95l1.2 1.85l-1.2 1.85l-1.2 -1.85z" fill="#4d4d4d" stroke-width="0.5" stroke-linejoin="miter"/>
</g>
<g stroke="#4d4d4d" stroke-width="0.75" fill="none" stroke-linecap="square">
<path d="M675.25 160.60V180.40M675.25 206.50V228.20M671.52 160.60h7.45M671.52 228.20h7.45"/>
<rect x="667.80" y="180.40" width="14.90" height="26.10" fill="#95a3c3"/>
<path d="M667.80 193.40h14.90" stroke-linecap="butt"/>
</g>
<path d="M477.40 148.80V277.30H684.30" fill="none" stroke="#cccccc" stroke-width="0.65"/>
<text transform="translate(474.10 154.55) rotate(0.05)" text-anchor="end">1.00</text>
<text transform="translate(474.10 181.45) rotate(0.05)" text-anchor="end">0.99</text>
<text transform="translate(474.10 208.65) rotate(0.05)" text-anchor="end">0.98</text>
<text transform="translate(474.10 235.15) rotate(0.05)" text-anchor="end">0.97</text>
<text transform="translate(474.10 262.25) rotate(0.05)" text-anchor="end">0.96</text>
<text transform="translate(580.85 145.70) rotate(0.05)" text-anchor="middle" font-size="5.14">Task = MSHS Prostate</text>
</g>
<g>
<line x1="22.50" x2="229.40" y1="292.10" y2="292.10" stroke="#cccccc" stroke-width="0.55"/>
<line x1="22.50" x2="229.40" y1="312.00" y2="312.00" stroke="#cccccc" stroke-width="0.55"/>
<line x1="22.50" x2="229.40" y1="331.80" y2="331.80" stroke="#cccccc" stroke-width="0.55"/>
<line x1="22.50" x2="229.40" y1="351.40" y2="351.40" stroke="#cccccc" stroke-width="0.55"/>
<line x1="22.50" x2="229.40" y1="370.60" y2="370.60" stroke="#cccccc" stroke-width="0.55"/>
<line x1="22.50" x2="229.40" y1="390.60" y2="390.60" stroke="#cccccc" stroke-width="0.55"/>
<line x1="22.50" x2="229.40" y1="410.50" y2="410.50" stroke="#cccccc" stroke-width="0.55"/>
<g stroke="#4d4d4d" stroke-width="0.75" fill="none" stroke-linecap="square">
<path d="M31.65 296.70V322.50M31.65 354.90V382.50M27.94 296.70h7.42M27.94 382.50h7.42"/>
<rect x="24.23" y="322.50" width="14.85" height="32.40" fill="#72b6a1"/>
<path d="M24.23 339.40h14.85" stroke-linecap="butt"/>
</g>
<g stroke="#4d4d4d" stroke-width="0.75" fill="none" stroke-linecap="square">
<path d="M50.46 301.70V329.40M50.46 357.50V379.50M46.75 301.70h7.42M46.75 379.50h7.42"/>
<rect x="43.04" y="329.40" width="14.85" height="28.10" fill="#e99675"/>
<path d="M43.04 345.60h14.85" stroke-linecap="butt"/>
</g>
<g stroke="#4d4d4d" stroke-width="0.75" fill="none" stroke-linecap="square">
<path d="M69.27 302.90V322.30M69.27 354.20V394.90M65.56 302.90h7.42M65.56 394.90h7.42"/>
<rect x="61.85" y="322.30" width="14.85" height="31.90" fill="#95a3c3"/>
<path d="M61.85 338.20h14.85" stroke-linecap="butt"/>
</g>
<g stroke="#4d4d4d" stroke-width="0.75" fill="none" stroke-linecap="square">
<path d="M88.08 299.20V325.10M88.08 350.40V380.50M84.37 299.20h7.42M84.37 380.50h7.42"/>
<rect x="80.66" y="325.10" width="14.85" height="25.30" fill="#db96c0"/>
<path d="M80.66 338.20h14.85" stroke-linecap="butt"/>
</g>
<g stroke="#4d4d4d" stroke-width="0.75" fill="none" stroke-linecap="square">
<path d="M106.89 309.30V336.60M106.89 371.40V413.50M103.18 309.30h7.42M103.18 413.50h7.42"/>
<rect x="99.47" y="336.60" width="14.85" height="34.80" fill="#a2c865"/>
<path d="M99.47 353.20h14.85" stroke-linecap="butt"/>
</g>
<g stroke="#4d4d4d" stroke-width="0.75" fill="none" stroke-linecap="square">
<path d="M125.70 310.90V326.20M125.70 358.10V386.40M121.99 310.90h7.42M121.99 386.40h7.42"/>
<rect x="118.28" y="326.20" width="14.85" height="31.90" fill="#e5c849"/>
<path d="M118.28 343.30h14.85" stroke-linecap="butt"/>
</g>
<g stroke="#4d4d4d" stroke-width="0.75" fill="none" stroke-linecap="square">
<path d="M144.51 323.50V340.20M144.51 361.50V382.70M140.80 323.50h7.42M140.80 382.70h7.42"/>
<rect x="137.08" y="340.20" width="14.85" height="21.30" fill="#dbc29e"/>
<path d="M137.08 352.30h14.85" stroke-linecap="butt"/>
<path d="M144.51 302.45l1.2 1.85l-1.2 1.85l-1.2 -1.85z" fill="#4d4d4d" stroke-width="0.5" stroke-linejoin="miter"/>
</g>
<g stroke="#4d4d4d" stroke-width="0.75" fill="none" stroke-linecap="square">
<path d="M163.32 303.30V325.30M163.32 358.20V379.30M159.61 303.30h7.42M159.61 379.30h7.42"/>
<rect x="155.89" y="325.30" width="14.85" height="32.90" fill="#b3b3b3"/>
<path d="M155.89 340.50h14.85" stroke-linecap="butt"/>
</g>
<g stroke="#4d4d4d" stroke-width="0.75" fill="none" stroke-linecap="square">
<path d="M182.13 305.40V332.90M182.13 357.70V394.50M178.41 305.40h7.42M178.41 394.50h7.42"/>
<rect x="174.70" y="332.90" width="14.85" height="24.80" fill="#72b6a1"/>
<path d="M174.70 341.50h14.85" stroke-linecap="butt"/>
</g>
<g stroke="#4d4d4d" stroke-width="0.75" fill="none" stroke-linecap="square">
<path d="M200.94 310.20V329.60M200.94 365.60V402.10M197.22 310.20h7.42M197.22 402.10h7.42"/>
<rect x="193.51" y="329.60" width="14.85" height="36.00" fill="#e99675"/>
<path d="M193.51 348.20h14.85" stroke-linecap="butt"/>
</g>
<g stroke="#4d4d4d" stroke-width="0.75" fill="none" stroke-linecap="square">
<path d="M219.75 308.10V339.30M219.75 371.40V411.50M216.03 308.10h7.42M216.03 411.50h7.42"/>
<rect x="212.32" y="339.30" width="14.85" height="32.10" fill="#95a3c3"/>
<path d="M212.32 352.30h14.85" stroke-linecap="butt"/>
</g>
<path d="M22.50 291.20V419.40H229.40" fill="none" stroke="#cccccc" stroke-width="0.65"/>
<text transform="translate(18.70 294.15) rotate(0.05)" text-anchor="end">1.00</text>
<text transform="translate(18.70 314.05) rotate(0.05)" text-anchor="end">0.99</text>
<text transform="translate(18.70 333.85) rotate(0.05)" text-anchor="end">0.98</text>
<text transform="translate(18.70 353.45) rotate(0.05)" text-anchor="end">0.97</text>
<text transform="translate(18.70 372.65) rotate(0.05)" text-anchor="end">0.96</text>
<text transform="translate(18.70 392.65) rotate(0.05)" text-anchor="end">0.95</text>
<text transform="translate(18.70 412.55) rotate(0.05)" text-anchor="end">0.94</text>
<text transform="translate(125.95 287.80) rotate(0.05)" text-anchor="middle" font-size="5.14">Task = MSHS Thyroid</text>
<text transform="translate(4.0 355.30) rotate(-90)" text-anchor="middle">Validation AUC</text>
<text transform="translate(31.65 426.60) rotate(-30)" text-anchor="end" font-size="5.3">h-optimus-0</text>
<text transform="translate(50.46 426.60) rotate(-30)" text-anchor="end" font-size="5.3">Prov-GigaPath</text>
<text transform="translate(69.27 426.60) rotate(-30)" text-anchor="end" font-size="5.3">SP85M</text>
<text transform="translate(88.08 426.60) rotate(-30)" text-anchor="end" font-size="5.3">UNI</text>
<text transform="translate(106.89 426.60) rotate(-30)" text-anchor="end" font-size="5.3">Virchow2</text>
<text transform="translate(125.70 426.60) rotate(-30)" text-anchor="end" font-size="5.3">SP22M</text>
<text transform="translate(144.51 426.60) rotate(-30)" text-anchor="end" font-size="5.3">Phikon-v2</text>
<text transform="translate(163.32 426.60) rotate(-30)" text-anchor="end" font-size="5.3">Virchow</text>
<text transform="translate(182.13 426.60) rotate(-30)" text-anchor="end" font-size="5.3">Phikon</text>
<text transform="translate(200.94 426.60) rotate(-30)" text-anchor="end" font-size="5.3">CTransPath</text>
<text transform="translate(219.75 426.60) rotate(-30)" text-anchor="end" font-size="5.3">tRes50</text>
<text transform="translate(125.95 452.30) rotate(0.05)" text-anchor="middle">Encoder</text>
</g>
<g>
<line x1="249.80" x2="456.70" y1="296.70" y2="296.70" stroke="#cccccc" stroke-width="0.55"/>
<line x1="249.80" x2="456.70" y1="313.60" y2="313.60" stroke="#cccccc" stroke-width="0.55"/>
<line x1="249.80" x2="456.70" y1="330.50" y2="330.50" stroke="#cccccc" stroke-width="0.55"/>
<line x1="249.80" x2="456.70" y1="347.50" y2="347.50" stroke="#cccccc" stroke-width="0.55"/>
<line x1="249.80" x2="456.70" y1="363.70" y2="363.70" stroke="#cccccc" stroke-width="0.55"/>
<line x1="249.80" x2="456.70" y1="380.50" y2="380.50" stroke="#cccccc" stroke-width="0.55"/>
<line x1="249.80" x2="456.70" y1="397.50" y2="397.50" stroke="#cccccc" stroke-width="0.55"/>
<line x1="249.80" x2="456.70" y1="414.30" y2="414.30" stroke="#cccccc" stroke-width="0.55"/>
<g stroke="#4d4d4d" stroke-width="0.75" fill="none" stroke-linecap="square">
<path d="M259.35 296.70V299.30M259.35 308.50V314.40M255.59 296.70h7.53M255.59 314.40h7.53"/>
<rect x="251.83" y="299.30" width="15.05" height="9.20" fill="#72b6a1"/>
<path d="M251.83 302.40h15.05" stroke-linecap="butt"/>
</g>
<g stroke="#4d4d4d" stroke-width="0.75" fill="none" stroke-linecap="square">
<path d="M278.16 296.70V299.30M278.16 317.90V335.50M274.40 296.70h7.53M274.40 335.50h7.53"/>
<rect x="270.64" y="299.30" width="15.05" height="18.60" fill="#e99675"/>
<path d="M270.64 309.80h15.05" stroke-linecap="butt"/>
<path d="M278.16 345.65l1.2 1.85l-1.2 1.85l-1.2 -1.85z" fill="#4d4d4d" stroke-width="0.5" stroke-linejoin="miter"/>
</g>
<g stroke="#4d4d4d" stroke-width="0.75" fill="none" stroke-linecap="square">
<path d="M296.97 296.70V300.40M296.97 311.70V325.60M293.21 296.70h7.53M293.21 325.60h7.53"/>
<rect x="289.45" y="300.40" width="15.05" height="11.30" fill="#95a3c3"/>
<path d="M289.45 304.50h15.05" stroke-linecap="butt"/>
<path d="M296.97 361.85l1.2 1.85l-1.2 1.85l-1.2 -1.85z" fill="#4d4d4d" stroke-width="0.5" stroke-linejoin="miter"/>
</g>
<g stroke="#4d4d4d" stroke-width="0.75" fill="none" stroke-linecap="square">
<path d="M315.78 296.70V297.30M315.78 307.10V316.40M312.02 296.70h7.53M312.02 316.40h7.53"/>
<rect x="308.26" y="297.30" width="15.05" height="9.80" fill="#db96c0"/>
<path d="M308.26 299.60h15.05" stroke-linecap="butt"/>
<path d="M315.78 326.65l1.2 1.85l-1.2 1.85l-1.2 -1.85z" fill="#4d4d4d" stroke-width="0.5" stroke-linejoin="miter"/>
</g>
<g stroke="#4d4d4d" stroke-width="0.75" fill="none" stroke-linecap="square">
<path d="M334.59 296.70V300.00M334.59 307.40V316.40M330.83 296.70h7.53M330.83 316.40h7.53"/>
<rect x="327.07" y="300.00" width="15.05" height="7.40" fill="#a2c865"/>
<path d="M327.07 302.60h15.05" stroke-linecap="butt"/>
<path d="M334.59 317.45l1.2 1.85l-1.2 1.85l-1.2 -1.85z" fill="#4d4d4d" stroke-width="0.5" stroke-linejoin="miter"/>
<path d="M334.59 349.55l1.2 1.85l-1.2 1.85l-1.2 -1.85z" fill="#4d4d4d" stroke-width="0.5" stroke-linejoin="miter"/>
</g>
<g stroke="#4d4d4d" stroke-width="0.75" fill="none" stroke-linecap="square">
<path d="M353.40 296.70V300.50M353.40 317.30V329.50M349.64 296.70h7.53M349.64 329.50h7.53"/>
<rect x="345.88" y="300.50" width="15.05" height="16.80" fill="#e5c849"/>
<path d="M345.88 304.50h15.05" stroke-linecap="butt"/>
</g>
<g stroke="#4d4d4d" stroke-width="0.75" fill="none" stroke-linecap="square">
<path d="M372.21 296.70V298.40M372.21 314.20V322.60M368.45 296.70h7.53M368.45 322.60h7.53"/>
<rect x="364.68" y="298.40" width="15.05" height="15.80" fill="#dbc29e"/>
<path d="M364.68 303.30h15.05" stroke-linecap="butt"/>
</g>
<g stroke="#4d4d4d" stroke-width="0.75" fill="none" stroke-linecap="square">
<path d="M391.02 296.70V298.20M391.02 315.40V339.20M387.26 296.70h7.53M387.26 339.20h7.53"/>
<rect x="383.49" y="298.20" width="15.05" height="17.20" fill="#b3b3b3"/>
<path d="M383.49 310.50h15.05" stroke-linecap="butt"/>
</g>
<g stroke="#4d4d4d" stroke-width="0.75" fill="none" stroke-linecap="square">
<path d="M409.83 296.70V299.30M409.83 313.30V322.60M406.06 296.70h7.53M406.06 322.60h7.53"/>
<rect x="402.30" y="299.30" width="15.05" height="14.00" fill="#72b6a1"/>
<path d="M402.30 302.40h15.05" stroke-linecap="butt"/>
<path d="M409.83 335.55l1.2 1.85l-1.2 1.85l-1.2 -1.85z" fill="#4d4d4d" stroke-width="0.5" stroke-linejoin="miter"/>
</g>
<g stroke="#4d4d4d" stroke-width="0.75" fill="none" stroke-linecap="square">
<path d="M428.64 296.70V305.50M428.64 327.60V333.40M424.87 296.70h7.53M424.87 333.40h7.53"/>
<rect x="421.11" y="305.50" width="15.05" height="22.10" fill="#e99675"/>
<path d="M421.11 314.60h15.05" stroke-linecap="butt"/>
<path d="M428.64 363.55l1.2 1.85l-1.2 1.85l-1.2 -1.85z" fill="#4d4d4d" stroke-width="0.5" stroke-linejoin="miter"/>
<path d="M428.64 374.15l1.2 1.85l-1.2 1.85l-1.2 -1.85z" fill="#4d4d4d" stroke-width="0.5" stroke-linejoin="miter"/>
</g>
<g stroke="#4d4d4d" stroke-width="0.75" fill="none" stroke-linecap="square">
<path d="M447.45 297.60V320.40M447.45 343.20V364.80M443.68 297.60h7.53M443.68 364.80h7.53"/>
<rect x="439.92" y="320.40" width="15.05" height="22.80" fill="#95a3c3"/>
<path d="M439.92 334.40h15.05" stroke-linecap="butt"/>
<path d="M447.45 394.55l1.2 1.85l-1.2 1.85l-1.2 -1.85z" fill="#4d4d4d" stroke-width="0.5" stroke-linejoin="miter"/>
<path d="M447.45 412.05l1.2 1.85l-1.2 1.85l-1.2 -1.85z" fill="#4d4d4d" stroke-width="0.5" stroke-linejoin="miter"/>
</g>
<path d="M249.80 291.20V419.40H456.70" fill="none" stroke="#cccccc" stroke-width="0.65"/>
<text transform="translate(246.00 298.75) rotate(0.05)" text-anchor="end">1.00</text>
<text transform="translate(246.00 315.65) rotate(0.05)" text-anchor="end">0.98</text>
<text transform="translate(246.00 332.55) rotate(0.05)" text-anchor="end">0.96</text>
<text transform="translate(246.00 349.55) rotate(0.05)" text-anchor="end">0.94</text>
<text transform="translate(246.00 365.75) rotate(0.05)" text-anchor="end">0.92</text>
<text transform="translate(246.00 382.55) rotate(0.05)" text-anchor="end">0.90</text>
<text transform="translate(246.00 399.55) rotate(0.05)" text-anchor="end">0.88</text>
<text transform="translate(246.00 416.35) rotate(0.05)" text-anchor="end">0.86</text>
<text transform="translate(353.25 287.80) rotate(0.05)" text-anchor="middle" font-size="5.14">Task = MSHS DCIS</text>
<text transform="translate(259.35 426.60) rotate(-30)" text-anchor="end" font-size="5.3">h-optimus-0</text>
<text transform="translate(278.16 426.60) rotate(-30)" text-anchor="end" font-size="5.3">Prov-GigaPath</text>
<text transform="translate(296.97 426.60) rotate(-30)" text-anchor="end" font-size="5.3">SP85M</text>
<text transform="translate(315.78 426.60) rotate(-30)" text-anchor="end" font-size="5.3">UNI</text>
<text transform="translate(334.59 426.60) rotate(-30)" text-anchor="end" font-size="5.3">Virchow2</text>
<text transform="translate(353.40 426.60) rotate(-30)" text-anchor="end" font-size="5.3">SP22M</text>
<text transform="translate(372.21 426.60) rotate(-30)" text-anchor="end" font-size="5.3">Phikon-v2</text>
<text transform="translate(391.02 426.60) rotate(-30)" text-anchor="end" font-size="5.3">Virchow</text>
<text transform="translate(409.83 426.60) rotate(-30)" text-anchor="end" font-size="5.3">Phikon</text>
<text transform="translate(428.64 426.60) rotate(-30)" text-anchor="end" font-size="5.3">CTransPath</text>
<text transform="translate(447.45 426.60) rotate(-30)" text-anchor="end" font-size="5.3">tRes50</text>
<text transform="translate(353.25 452.30) rotate(0.05)" text-anchor="middle">Encoder</text>
</g>
<g>
<line x1="477.40" x2="684.30" y1="313.40" y2="313.40" stroke="#cccccc" stroke-width="0.55"/>
<line x1="477.40" x2="684.30" y1="337.60" y2="337.60" stroke="#cccccc" stroke-width="0.55"/>
<line x1="477.40" x2="684.30" y1="362.10" y2="362.10" stroke="#cccccc" stroke-width="0.55"/>
<line x1="477.40" x2="684.30" y1="386.40" y2="386.40" stroke="#cccccc" stroke-width="0.55"/>
<line x1="477.40" x2="684.30" y1="410.50" y2="410.50" stroke="#cccccc" stroke-width="0.55"/>
<g stroke="#4d4d4d" stroke-width="0.75" fill="none" stroke-linecap="square">
<path d="M487.15 296.90V308.30M487.15 317.70V328.40M483.43 296.90h7.45M483.43 328.40h7.45"/>
<rect x="479.70" y="308.30" width="14.90" height="9.40" fill="#72b6a1"/>
<path d="M479.70 312.70h14.90" stroke-linecap="butt"/>
<path d="M487.15 331.25l1.2 1.85l-1.2 1.85l-1.2 -1.85z" fill="#4d4d4d" stroke-width="0.5" stroke-linejoin="miter"/>
</g>
<g stroke="#4d4d4d" stroke-width="0.75" fill="none" stroke-linecap="square">
<path d="M505.96 302.80V308.30M505.96 317.50V326.50M502.24 302.80h7.45M502.24 326.50h7.45"/>
<rect x="498.51" y="308.30" width="14.90" height="9.20" fill="#e99675"/>
<path d="M498.51 312.50h14.90" stroke-linecap="butt"/>
</g>
<g stroke="#4d4d4d" stroke-width="0.75" fill="none" stroke-linecap="square">
<path d="M524.77 298.30V312.20M524.77 327.40V333.40M521.05 298.30h7.45M521.05 333.40h7.45"/>
<rect x="517.32" y="312.20" width="14.90" height="15.20" fill="#95a3c3"/>
<path d="M517.32 323.20h14.90" stroke-linecap="butt"/>
</g>
<g stroke="#4d4d4d" stroke-width="0.75" fill="none" stroke-linecap="square">
<path d="M543.58 305.20V313.60M543.58 328.30V342.60M539.86 305.20h7.45M539.86 342.60h7.45"/>
<rect x="536.13" y="313.60" width="14.90" height="14.70" fill="#db96c0"/>
<path d="M536.13 322.40h14.90" stroke-linecap="butt"/>
</g>
<g stroke="#4d4d4d" stroke-width="0.75" fill="none" stroke-linecap="square">
<path d="M562.39 301.20V314.50M562.39 328.30V337.60M558.67 301.20h7.45M558.67 337.60h7.45"/>
<rect x="554.94" y="314.50" width="14.90" height="13.80" fill="#a2c865"/>
<path d="M554.94 321.50h14.90" stroke-linecap="butt"/>
<path d="M562.39 351.25l1.2 1.85l-1.2 1.85l-1.2 -1.85z" fill="#4d4d4d" stroke-width="0.5" stroke-linejoin="miter"/>
</g>
<g stroke="#4d4d4d" stroke-width="0.75" fill="none" stroke-linecap="square">
<path d="M581.20 303.50V313.50M581.20 326.40V335.50M577.48 303.50h7.45M577.48 335.50h7.45"/>
<rect x="573.75" y="313.50" width="14.90" height="12.90" fill="#e5c849"/>
<path d="M573.75 319.60h14.90" stroke-linecap="butt"/>
</g>
<g stroke="#4d4d4d" stroke-width="0.75" fill="none" stroke-linecap="square">
<path d="M600.01 314.40V326.50M600.01 348.70V362.80M596.28 314.40h7.45M596.28 362.80h7.45"/>
<rect x="592.56" y="326.50" width="14.90" height="22.20" fill="#dbc29e"/>
<path d="M592.56 334.40h14.90" stroke-linecap="butt"/>
</g>
<g stroke="#4d4d4d" stroke-width="0.75" fill="none" stroke-linecap="square">
<path d="M618.82 309.70V322.50M618.82 338.60V361.40M615.09 309.70h7.45M615.09 361.40h7.45"/>
<rect x="611.37" y="322.50" width="14.90" height="16.10" fill="#b3b3b3"/>
<path d="M611.37 332.50h14.90" stroke-linecap="butt"/>
</g>
<g stroke="#4d4d4d" stroke-width="0.75" fill="none" stroke-linecap="square">
<path d="M637.63 305.60V320.20M637.63 335.40V352.50M633.90 305.60h7.45M633.90 352.50h7.45"/>
<rect x="630.18" y="320.20" width="14.90" height="15.20" fill="#72b6a1"/>
<path d="M630.18 327.50h14.90" stroke-linecap="butt"/>
</g>
<g stroke="#4d4d4d" stroke-width="0.75" fill="none" stroke-linecap="square">
<path d="M656.44 322.60V331.00M656.44 351.00V356.90M652.71 322.60h7.45M652.71 356.90h7.45"/>
<rect x="648.99" y="331.00" width="14.90" height="20.00" fill="#e99675"/>
<path d="M648.99 346.60h14.90" stroke-linecap="butt"/>
</g>
<g stroke="#4d4d4d" stroke-width="0.75" fill="none" stroke-linecap="square">
<path d="M675.25 325.40V348.30M675.25 376.40V413.50M671.52 325.40h7.45M671.52 413.50h7.45"/>
<rect x="667.80" y="348.30" width="14.90" height="28.10" fill="#95a3c3"/>
<path d="M667.80 357.40h14.90" stroke-linecap="butt"/>
</g>
<path d="M477.40 291.20V419.40H684.30" fill="none" stroke="#cccccc" stroke-width="0.65"/>
<text transform="translate(474.10 315.45) rotate(0.05)" text-anchor="end">0.98</text>
<text transform="translate(474.10 339.65) rotate(0.05)" text-anchor="end">0.96</text>
<text transform="translate(474.10 364.15) rotate(0.05)" text-anchor="end">0.94</text>
<text transform="translate(474.10 388.45) rotate(0.05)" text-anchor="end">0.92</text>
<text transform="translate(474.10 412.55) rotate(0.05)" text-anchor="end">0.90</text>
<text transform="translate(580.85 287.80) rotate(0.05)" text-anchor="middle" font-size="5.14">Task = MSHS IBD</text>
<text transform="translate(487.15 426.60) rotate(-30)" text-anchor="end" font-size="5.3">h-optimus-0</text>
<text transform="translate(505.96 426.60) rotate(-30)" text-anchor="end" font-size="5.3">Prov-GigaPath</text>
<text transform="translate(524.77 426.60) rotate(-30)" text-anchor="end" font-size="5.3">SP85M</text>
<text transform="translate(543.58 426.60) rotate(-30)" text-anchor="end" font-size="5.3">UNI</text>
<text transform="translate(562.39 426.60) rotate(-30)" text-anchor="end" font-size="5.3">Virchow2</text>
<text transform="translate(581.20 426.60) rotate(-30)" text-anchor="end" font-size="5.3">SP22M</text>
<text transform="translate(600.01 426.60) rotate(-30)" text-anchor="end" font-size="5.3">Phikon-v2</text>
<text transform="translate(618.82 426.60) rotate(-30)" text-anchor="end" font-size="5.3">Virchow</text>
<text transform="translate(637.63 426.60) rotate(-30)" text-anchor="end" font-size="5.3">Phikon</text>
<text transform="translate(656.44 426.60) rotate(-30)" text-anchor="end" font-size="5.3">CTransPath</text>
<text transform="translate(675.25 426.60) rotate(-30)" text-anchor="end" font-size="5.3">tRes50</text>
<text transform="translate(580.85 452.30) rotate(0.05)" text-anchor="middle">Encoder</text>
</g>
</svg>
</body></html>
